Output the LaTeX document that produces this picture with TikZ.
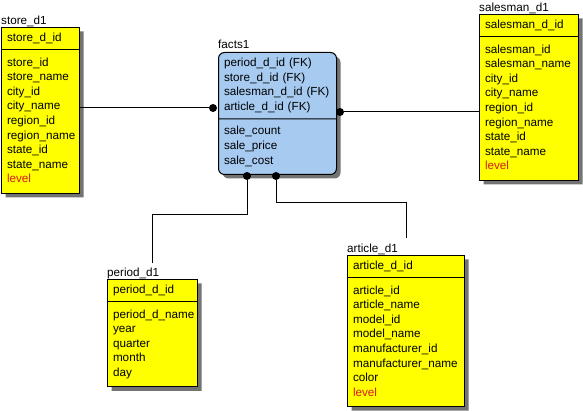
\documentclass[tikz,border=0pt]{standalone}
\usepackage{fontspec}
\setmainfont{Liberation Sans}
\usepackage{tikz}
\usetikzlibrary{shapes.multipart,shadows,calc}
\definecolor{giallo}{RGB}{255,255,0}
\definecolor{azzurro}{RGB}{166,202,240}
\definecolor{rosso}{RGB}{214,28,28}
\newcommand{\tabfont}{\fontsize{11.7}{14.6}\selectfont}
\newcommand{\primariga}{\rule{0pt}{12.2pt}}
\newcommand{\ultimariga}{\rule[-6.4pt]{0pt}{6.4pt}}
\tikzstyle{tabella} = [rectangle split, rectangle split parts=2, anchor=north west,
draw=black, fill=giallo, line width=1pt, inner xsep=5.5pt, inner ysep=3.45pt, align=left, font=\tabfont,
drop shadow={shadow xshift=4pt, shadow yshift=-4pt, fill=black!55, opacity=1}]
\tikzstyle{fatti} = [tabella, fill=azzurro, rounded corners=6pt]
\tikzstyle{etichetta} = [anchor=base west, inner sep=0pt, font=\tabfont]
\tikzstyle{punto} = [circle, fill=black, inner sep=0pt, minimum size=8pt]
\tikzstyle{linea} = [line width=1pt]

\begin{document}
\begin{tikzpicture}[x=1pt,y=-1pt]
				\useasboundingbox (0,0) rectangle (583,411);
				\node (store) at (1,27) [tabella, text width=67pt] {\strut store\_d\_id
					\nodepart{two}\primariga store\_id\\ store\_name\\ city\_id\\ city\_name\\ region\_id\\ region\_name\\ state\_id\\ state\_name\\ \textcolor{rosso}{level}\ultimariga};
				\node (facts) at (218,52) [fatti, text width=107pt] {\strut period\_d\_id (FK)\\ store\_d\_id (FK)\\ salesman\_d\_id (FK)\\ article\_d\_id (FK)\strut
					\nodepart{two}\primariga sale\_count\\ sale\_price\\ sale\_cost\ultimariga};
				\node (salesman) at (479,14) [tabella, text width=88pt] {\strut salesman\_d\_id
					\nodepart{two}\primariga salesman\_id\\ salesman\_name\\ city\_id\\ city\_name\\ region\_id\\ region\_name\\ state\_id\\ state\_name\\ \textcolor{rosso}{level}\ultimariga};
				\node (period) at (107,279) [tabella, text width=79pt] {\strut period\_d\_id
					\nodepart{two}\primariga period\_d\_name\\ year\\ quarter\\ month\\ day\ultimariga};
				\node (article) at (347,255) [tabella, text width=106pt] {\strut article\_d\_id
					\nodepart{two}\primariga article\_id\\ article\_name\\ model\_id\\ model\_name\\ manufacturer\_id\\ manufacturer\_name\\ color\\ \textcolor{rosso}{level}\ultimariga};
				\node (lbl_store) [etichetta] at ([yshift=2.7pt]store.north west) {store\_d1};
				\node (lbl_facts) [etichetta] at ([yshift=3.5pt]facts.north west) {facts1};
				\node (lbl_salesman) [etichetta] at ([yshift=2.7pt]salesman.north west) {salesman\_d1};
				\node (lbl_period) [etichetta] at ([yshift=2.7pt]period.north west) {period\_d1};
				\node (lbl_article) [etichetta] at ([yshift=2.7pt]article.north west) {article\_d1};
				\node (dot_store) at (213,108) [punto] {};
				\node (dot_salesman) at (340,112) [punto] {};
				\node (dot_period) at (247,176) [punto] {};
				\node (dot_article) at (276,176) [punto] {};
				\draw[linea] (dot_store) -- (store.east |- dot_store);
				\draw[linea] (dot_salesman) -- (salesman.west |- dot_salesman);
				\draw[linea, shorten >=16pt] (dot_period) -- ++(0,39) -| (period.north);
				\draw[linea, shorten >=17pt] (dot_article) -- ++(0,27) -| (article.north);
				\end{tikzpicture}
\end{document}
